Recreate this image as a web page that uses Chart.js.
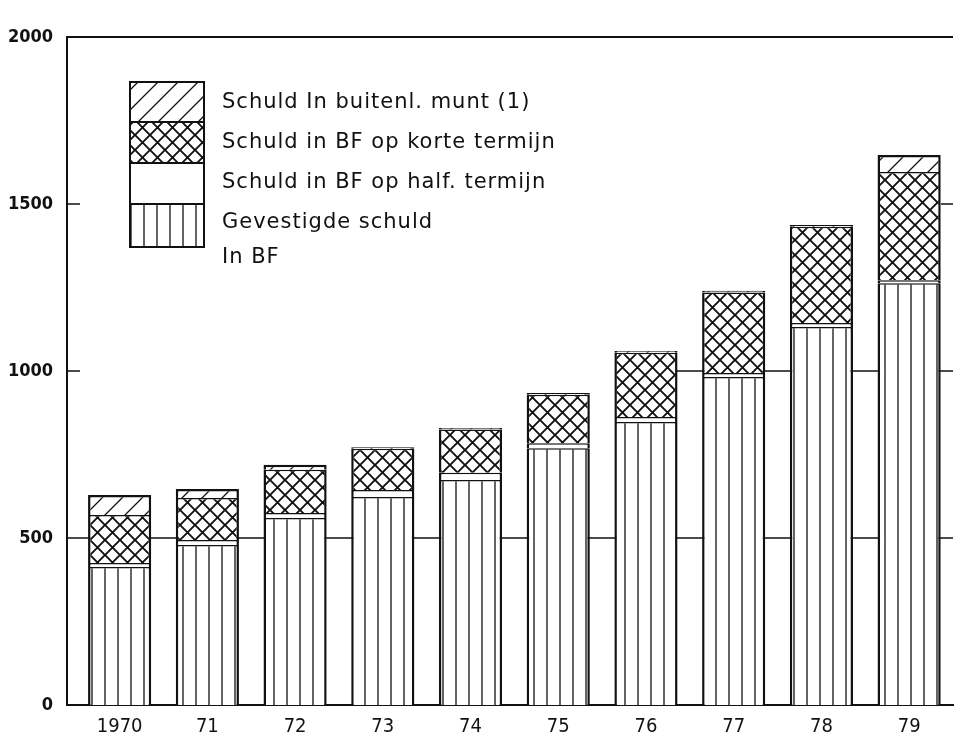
<!DOCTYPE html>
<html>
<head>
<meta charset="utf-8">
<script src="https://cdn.jsdelivr.net/npm/chart.js@4/dist/chart.umd.min.js"></script>
<style>
    html, body { margin: 0; padding: 0; background: #fff; overflow: hidden; }
    #wrap { width: 955px; height: 745px; position: relative; }
</style>
</head>
<body>
<div id="wrap"><canvas id="debtChart"></canvas></div>
<script>
// Chart data (mld BF)
const years = ['1970', '71', '72', '73', '74', '75', '76', '77', '78', '79'];
const gevestigdeSchuld = [413, 479, 560, 623, 674, 769, 847, 982, 1132, 1263];
const halfTermijn = [12, 15, 15, 21, 21, 15, 15, 12, 12, 9];
const korteTermijn = [144, 126, 129, 123, 130, 145, 193, 241, 288, 324];
const buitenlMunt = [60, 27, 15, 5, 4, 5, 5, 5, 5, 51];
const yTicks = [0, 500, 1000, 1500, 2000];

const seriesLabels = [
    ['Gevestigde schuld', 'In BF'],
    ['Schuld in BF op half. termijn'],
    ['Schuld in BF op korte termijn'],
    ['Schuld In buitenl. munt (1)']
];

const ink = '#111';
const tickFont = '"DejaVu Sans Condensed", sans-serif';
const legendFont = '"DejaVu Sans", sans-serif';

// Build hatch patterns from a small tile
function makePattern(size, draw) {
    const c = document.createElement('canvas');
    c.width = size;
    c.height = size;
    const g = c.getContext('2d');
    g.fillStyle = '#fff';
    g.fillRect(0, 0, size, size);
    g.strokeStyle = ink;
    g.lineWidth = 1.3;
    draw(g, size);
    return c.getContext('2d').createPattern(c, 'repeat');
}

const verticalPattern = makePattern(13, (g, s) => {
    g.beginPath();
    g.moveTo(1, 0);
    g.lineTo(1, s);
    g.stroke();
});

const crossPattern = makePattern(15, (g, s) => {
    g.lineWidth = 1.9;
    g.beginPath();
    g.moveTo(-1, -1); g.lineTo(s + 1, s + 1);
    g.moveTo(s + 1, -1); g.lineTo(-1, s + 1);
    g.stroke();
});

const slantPattern = makePattern(20, (g, s) => {
    g.beginPath();
    g.moveTo(-1, s + 1); g.lineTo(s + 1, -1);
    g.moveTo(-1, 1); g.lineTo(1, -1);
    g.moveTo(s - 1, s + 1); g.lineTo(s + 1, s - 1);
    g.stroke();
});

const fills = [verticalPattern, '#fff', crossPattern, slantPattern];

function toPoints(values) {
    return values.map((v, i) => ({ x: i, y: v }));
}

// Reference lines and inward ticks
const frameLines = {
    id: 'frameLines',
    beforeDatasetsDraw(chart) {
        const ctx = chart.ctx;
        const area = chart.chartArea;
        const x = chart.scales.x;
        const y = chart.scales.y;
        ctx.save();
        ctx.strokeStyle = ink;
        ctx.lineWidth = 1.5;
        ctx.beginPath();
        // 500 line across the whole plot
        ctx.moveTo(area.left, y.getPixelForValue(500));
        ctx.lineTo(area.right, y.getPixelForValue(500));
        // 1000 line from 1976 onwards
        ctx.moveTo(x.getPixelForValue(6), y.getPixelForValue(1000));
        ctx.lineTo(area.right, y.getPixelForValue(1000));
        // short ticks
        [500, 1000, 1500].forEach(v => {
            ctx.moveTo(area.left, y.getPixelForValue(v));
            ctx.lineTo(area.left + 13, y.getPixelForValue(v));
        });
        ctx.moveTo(area.right - 12, y.getPixelForValue(1500));
        ctx.lineTo(area.right, y.getPixelForValue(1500));
        ctx.stroke();
        // top frame
        ctx.lineWidth = 2;
        ctx.beginPath();
        ctx.moveTo(area.left, area.top);
        ctx.lineTo(area.right, area.top);
        ctx.stroke();
        ctx.restore();
    }
};

// Legend drawn as stacked boxes inside the plot
const boxLegend = {
    id: 'boxLegend',
    afterDraw(chart) {
        const ctx = chart.ctx;
        const boxLeft = 130, boxWidth = 74;
        const tops = [82, 122, 163, 204];
        const bottoms = [122, 163, 204, 247];
        ctx.save();
        for (let k = 0; k < 4; k++) {
            const ds = chart.data.datasets[3 - k];
            ctx.fillStyle = ds.backgroundColor;
            ctx.fillRect(boxLeft, tops[k], boxWidth, bottoms[k] - tops[k]);
            ctx.strokeStyle = ink;
            ctx.lineWidth = 2;
            ctx.strokeRect(boxLeft, tops[k], boxWidth, bottoms[k] - tops[k]);
        }
        ctx.font = '21px ' + legendFont;
        ctx.letterSpacing = '1px';
        ctx.textBaseline = 'middle';
        ctx.fillStyle = ink;
        for (let k = 0; k < 4; k++) {
            seriesLabels[3 - k].forEach((t, j) => {
                ctx.fillText(t, 222, 103 + k * 40 + j * 35);
            });
        }
        ctx.restore();
    }
};

const datasets = [gevestigdeSchuld, halfTermijn, korteTermijn, buitenlMunt].map((values, i) => ({
    label: seriesLabels[i].join(' '),
    data: toPoints(values),
    backgroundColor: fills[i],
    borderColor: ink,
    borderWidth: { top: i === 3 ? 2.5 : 1.5, left: 2.5, right: 2.5, bottom: 0 },
    borderSkipped: false,
    categoryPercentage: 0.72,
    barPercentage: 1
}));

const ctx = document.getElementById('debtChart').getContext('2d');
new Chart(ctx, {
    type: 'bar',
    data: { datasets: datasets },
    options: {
        responsive: true,
        maintainAspectRatio: false,
        animation: false,
        layout: { padding: { top: 37, right: 2, left: 0, bottom: 0 } },
        plugins: {
            legend: { display: false },
            tooltip: { enabled: false }
        },
        scales: {
            x: {
                type: 'linear',
                offset: false,
                stacked: true,
                min: -0.6,
                max: 9.5,
                afterBuildTicks: scale => {
                    scale.ticks = years.map((y, i) => ({ value: i }));
                },
                afterFit: scale => { scale.height = 40; },
                grid: { display: false, drawTicks: false },
                border: { display: true, color: ink, width: 2 },
                ticks: {
                    padding: 10,
                    color: ink,
                    font: { family: tickFont, size: 20 },
                    callback: value => years[value]
                }
            },
            y: {
                stacked: true,
                min: 0,
                max: 2000,
                afterBuildTicks: scale => {
                    scale.ticks = yTicks.map(v => ({ value: v }));
                },
                afterFit: scale => { scale.width = 67; },
                grid: { display: false, drawTicks: false },
                border: { display: true, color: ink, width: 2 },
                ticks: {
                    padding: 14,
                    color: ink,
                    font: { family: tickFont, size: 18, weight: 'bold' },
                    callback: value => String(value)
                }
            }
        }
    },
    plugins: [frameLines, boxLegend]
});
</script>
</body>
</html>
